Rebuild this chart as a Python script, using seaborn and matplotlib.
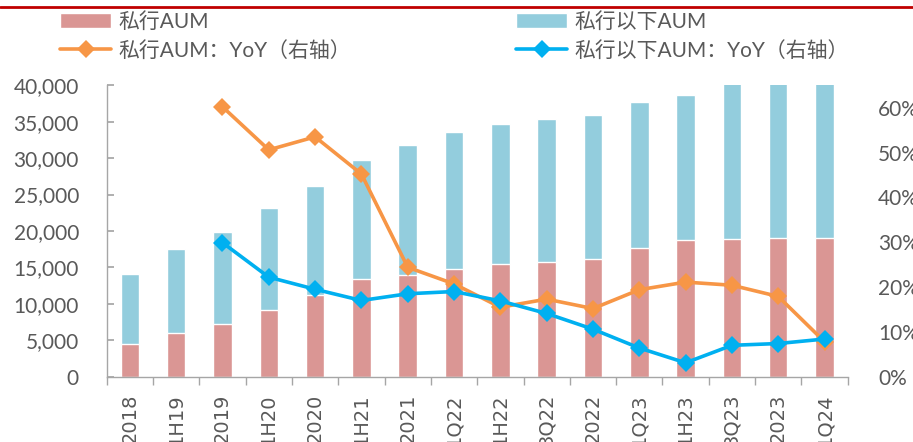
import numpy as np
import matplotlib
matplotlib.use('Agg')
import matplotlib.pyplot as plt
import seaborn as sns
from matplotlib.lines import Line2D
from matplotlib.patches import Patch
from matplotlib.ticker import FuncFormatter, FixedLocator

sns.set_theme(style='white')
plt.rcParams['font.family'] = ['Lato', 'Noto Sans CJK SC', 'DejaVu Sans']

# data (亿元 / %)
periods = ['2018', '1H19', '2019', '1H20', '2020', '1H21', '2021', '1Q22',
           '1H22', '3Q22', '2022', '1Q23', '1H23', '3Q23', '2023', '1Q24']
private_aum = [4450, 6050, 7300, 9100, 11250, 13400, 14000, 14800,
               15450, 15700, 16150, 17700, 18800, 18950, 19100, 19100]
below_aum = [9700, 11450, 12500, 14100, 14950, 16400, 17800, 18800,
             19300, 19650, 19750, 20000, 19800, 21350, 21600, 22000]
private_yoy = [np.nan, np.nan, 60.2, 50.6, 53.5, 45.2, 24.4, 20.7,
               15.5, 17.3, 15.2, 19.4, 21.1, 20.4, 17.9, 7.8]
below_yoy = [np.nan, np.nan, 29.9, 22.2, 19.5, 17.0, 18.5, 19.0,
             16.9, 14.1, 10.6, 6.4, 3.1, 7.0, 7.4, 8.4]

PINK = '#DA9694'
LBLUE = '#93CDDD'
ORANGE = '#F79646'
BLUE = '#00B0F0'
GREY = '#595959'

W, H = 913, 442
fig = plt.figure(figsize=(W / 100, H / 100), dpi=100)
ax = fig.add_axes([106.7 / W, 1 - 376.7 / H, (847.7 - 106.7) / W, (376.7 - 85.3) / H])

stack_top = np.array(private_aum) + np.array(below_aum)
sns.barplot(x=periods, y=stack_top, color=LBLUE, saturation=1, width=0.4, ax=ax)
sns.barplot(x=periods, y=private_aum, color=PINK, saturation=1, width=0.4, ax=ax)

ax.set_xlim(-0.5, len(periods) - 0.5)
ax.set_ylim(0, 40000)
ax.set_yticks(np.arange(0, 40001, 5000))
ax.yaxis.set_major_formatter(FuncFormatter(lambda v, p: f'{int(v):,}'))
ax.set_xlabel('')
ax.set_ylabel('')
for s in ['top', 'right']:
    ax.spines[s].set_visible(False)
for s in ['left', 'bottom']:
    ax.spines[s].set_color('#A6A6A6')
    ax.spines[s].set_linewidth(1.0)
ax.tick_params(axis='y', direction='in', length=5, color='#A6A6A6', pad=20,
               labelsize=15, labelcolor=GREY, left=True)
ax.set_xticks(range(len(periods)))
ax.set_xticklabels(periods, rotation=90, fontsize=14, color=GREY,
                   family='DejaVu Sans', va='top')
ax.tick_params(axis='x', which='major', length=0, pad=12)
ax.xaxis.set_minor_locator(FixedLocator(np.arange(-0.5, len(periods), 1)))
ax.tick_params(axis='x', which='minor', direction='out', length=6,
               color='#A6A6A6', width=1.0, bottom=True)

ax2 = ax.twinx()
pos = np.arange(len(periods))
ax2.plot(pos, private_yoy, color=ORANGE, lw=2.6, marker='D', ms=9,
         markeredgewidth=0)
ax2.plot(pos, below_yoy, color=BLUE, lw=2.6, marker='D', ms=9,
         markeredgewidth=0)
ax2.set_ylim(0, 65)
ax2.set_yticks(np.arange(0, 61, 10))
ax2.yaxis.set_major_formatter(FuncFormatter(lambda v, p: f'{int(v)}%'))
ax2.tick_params(axis='y', length=0, pad=22, labelsize=15, labelcolor=GREY)
for s in ax2.spines.values():
    s.set_visible(False)
ax2.grid(False)
ax.grid(False)

# legends (two columns placed separately)
leg_kw = dict(loc='upper left', frameon=False, fontsize=15, handlelength=2.45,
              handletextpad=0.35, labelspacing=0.42, borderpad=0,
              borderaxespad=0, labelcolor=GREY)
h1 = [Patch(facecolor=PINK), Line2D([], [], color=ORANGE, lw=2.6, marker='D', ms=9, mew=0)]
h2 = [Patch(facecolor=LBLUE), Line2D([], [], color=BLUE, lw=2.6, marker='D', ms=9, mew=0)]
fig.legend(h1, ['私行AUM', '私行AUM：YoY（右轴）'],
           bbox_to_anchor=(60 / W, 1 - 12 / H), **leg_kw)
fig.legend(h2, ['私行以下AUM', '私行以下AUM：YoY（右轴）'],
           bbox_to_anchor=(516 / W, 1 - 12 / H), **leg_kw)

# cropped header rule
fig.add_artist(Line2D([0, 1], [1 - 6.5 / H, 1 - 6.5 / H], transform=fig.transFigure,
                      color='#C00000', lw=2))

fig.savefig('out.png', dpi=100)
